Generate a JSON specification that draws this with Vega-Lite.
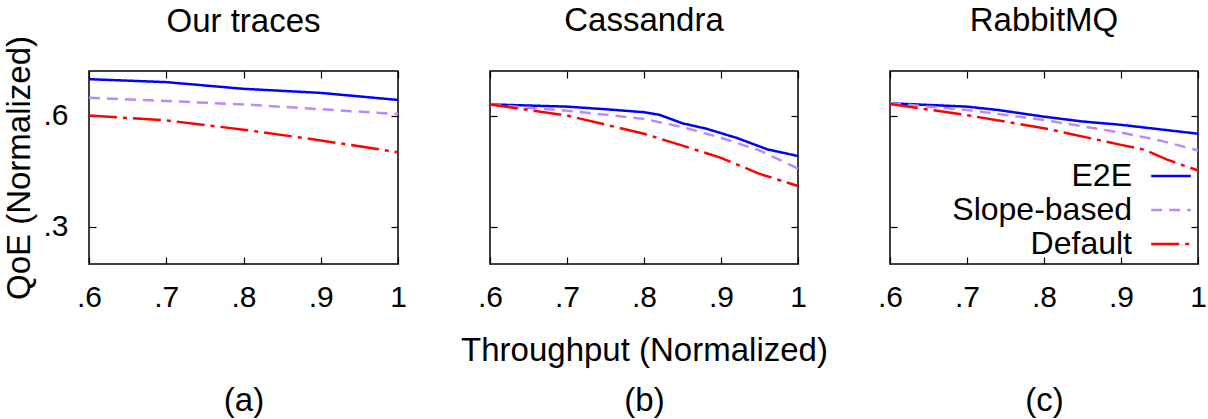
{
  "$schema": "https://vega.github.io/schema/vega-lite/v6.json",
  "background": "white",
  "padding": {"left": 3, "top": 4, "right": 5, "bottom": 0},
  "bounds": "flush",
  "spacing": 92,
  "data": {"values": [
    {"p": "a", "m": "E2E", "x": 0.6, "y": 0.698},
    {"p": "a", "m": "E2E", "x": 0.7, "y": 0.690},
    {"p": "a", "m": "E2E", "x": 0.8, "y": 0.672},
    {"p": "a", "m": "E2E", "x": 0.9, "y": 0.661},
    {"p": "a", "m": "E2E", "x": 1.0, "y": 0.642},
    {"p": "a", "m": "Slope-based", "x": 0.6, "y": 0.648},
    {"p": "a", "m": "Slope-based", "x": 0.7, "y": 0.639},
    {"p": "a", "m": "Slope-based", "x": 0.8, "y": 0.630},
    {"p": "a", "m": "Slope-based", "x": 0.9, "y": 0.617},
    {"p": "a", "m": "Slope-based", "x": 1.0, "y": 0.604},
    {"p": "a", "m": "Default", "x": 0.6, "y": 0.600},
    {"p": "a", "m": "Default", "x": 0.7, "y": 0.587},
    {"p": "a", "m": "Default", "x": 0.8, "y": 0.562},
    {"p": "a", "m": "Default", "x": 0.9, "y": 0.533},
    {"p": "a", "m": "Default", "x": 1.0, "y": 0.501},
    {"p": "b", "m": "E2E", "x": 0.6, "y": 0.630},
    {"p": "b", "m": "E2E", "x": 0.7, "y": 0.624},
    {"p": "b", "m": "E2E", "x": 0.75, "y": 0.617},
    {"p": "b", "m": "E2E", "x": 0.8, "y": 0.609},
    {"p": "b", "m": "E2E", "x": 0.82, "y": 0.602},
    {"p": "b", "m": "E2E", "x": 0.85, "y": 0.579},
    {"p": "b", "m": "E2E", "x": 0.88, "y": 0.565},
    {"p": "b", "m": "E2E", "x": 0.92, "y": 0.540},
    {"p": "b", "m": "E2E", "x": 0.96, "y": 0.509},
    {"p": "b", "m": "E2E", "x": 1.0, "y": 0.491},
    {"p": "b", "m": "Slope-based", "x": 0.6, "y": 0.630},
    {"p": "b", "m": "Slope-based", "x": 0.65, "y": 0.621},
    {"p": "b", "m": "Slope-based", "x": 0.7, "y": 0.613},
    {"p": "b", "m": "Slope-based", "x": 0.8, "y": 0.591},
    {"p": "b", "m": "Slope-based", "x": 0.85, "y": 0.569},
    {"p": "b", "m": "Slope-based", "x": 0.9, "y": 0.540},
    {"p": "b", "m": "Slope-based", "x": 0.95, "y": 0.506},
    {"p": "b", "m": "Slope-based", "x": 1.0, "y": 0.457},
    {"p": "b", "m": "Default", "x": 0.6, "y": 0.630},
    {"p": "b", "m": "Default", "x": 0.7, "y": 0.600},
    {"p": "b", "m": "Default", "x": 0.8, "y": 0.551},
    {"p": "b", "m": "Default", "x": 0.85, "y": 0.519},
    {"p": "b", "m": "Default", "x": 0.9, "y": 0.486},
    {"p": "b", "m": "Default", "x": 0.95, "y": 0.443},
    {"p": "b", "m": "Default", "x": 1.0, "y": 0.410},
    {"p": "c", "m": "E2E", "x": 0.6, "y": 0.633},
    {"p": "c", "m": "E2E", "x": 0.7, "y": 0.624},
    {"p": "c", "m": "E2E", "x": 0.74, "y": 0.615},
    {"p": "c", "m": "E2E", "x": 0.8, "y": 0.597},
    {"p": "c", "m": "E2E", "x": 0.85, "y": 0.584},
    {"p": "c", "m": "E2E", "x": 0.9, "y": 0.575},
    {"p": "c", "m": "E2E", "x": 1.0, "y": 0.551},
    {"p": "c", "m": "Slope-based", "x": 0.6, "y": 0.633},
    {"p": "c", "m": "Slope-based", "x": 0.7, "y": 0.615},
    {"p": "c", "m": "Slope-based", "x": 0.8, "y": 0.588},
    {"p": "c", "m": "Slope-based", "x": 0.9, "y": 0.554},
    {"p": "c", "m": "Slope-based", "x": 0.95, "y": 0.533},
    {"p": "c", "m": "Slope-based", "x": 1.0, "y": 0.506},
    {"p": "c", "m": "Default", "x": 0.6, "y": 0.631},
    {"p": "c", "m": "Default", "x": 0.7, "y": 0.601},
    {"p": "c", "m": "Default", "x": 0.8, "y": 0.566},
    {"p": "c", "m": "Default", "x": 0.9, "y": 0.521},
    {"p": "c", "m": "Default", "x": 0.93, "y": 0.508},
    {"p": "c", "m": "Default", "x": 0.96, "y": 0.481},
    {"p": "c", "m": "Default", "x": 1.0, "y": 0.452}
  ]},
  "config": {
    "font": "Liberation Sans",
    "view": {"stroke": "#000", "strokeWidth": 1.5},
    "axis": {
      "domain": false, "grid": false,
      "tickColor": "#000", "tickSize": -7, "tickWidth": 1.2,
      "labelFont": "Liberation Sans", "labelFontSize": 30, "labelColor": "#000",
      "titleFont": "Liberation Sans", "titleFontSize": 33, "titleFontWeight": "normal", "titleColor": "#000"
    },
    "title": {"font": "Liberation Sans", "fontSize": 33, "fontWeight": "normal", "color": "#000", "baseline": "alphabetic", "offset": 32, "frame": "group"}
  },
  "resolve": {
    "scale": {"color": "independent", "strokeDash": "independent"},
    "legend": {"color": "independent", "strokeDash": "independent"}
  },
  "hconcat": [
    {
      "width": 309, "height": 193,
      "title": {"text": "Our traces", "offset": -4},
      "transform": [{"filter": "datum.p == 'a'"}],
      "layer": [
        {
          "mark": {"type": "line", "strokeWidth": 2.5},
          "encoding": {
            "x": {"field": "x", "type": "quantitative", "scale": {"domain": [0.6, 1], "nice": false},
              "axis": {"orient": "bottom", "values": [0.6, 0.7, 0.8, 0.9, 1], "labelExpr": "datum.value == 1 ? '1' : replace(format(datum.value, '.1f'), '0.', '.')", "labelPadding": 25, "title": [" ", "(a)"], "titleLineHeight": 50, "titlePadding": 22, "labelFlush": false}},
            "y": {"field": "y", "type": "quantitative", "scale": {"domain": [0.2, 0.72], "nice": false, "zero": false},
              "axis": {"orient": "left", "values": [0.3, 0.6], "labelExpr": "replace(format(datum.value, '.1f'), '0.', '.')", "labelPadding": 28, "title": "QoE (Normalized)", "titlePadding": 6}},
            "color": {"field": "m", "type": "nominal", "scale": {"domain": ["E2E", "Slope-based", "Default"], "range": ["#0000ff", "#bb88ff", "#ff0000"]}, "legend": null},
            "strokeDash": {"field": "m", "type": "nominal", "scale": {"domain": ["E2E", "Slope-based", "Default"], "range": [[1, 0], [11, 7], [28, 6, 4, 6]]}, "legend": null}
          }
        },
        {
          "mark": {"type": "line", "opacity": 0},
          "encoding": {
            "x": {"field": "x", "type": "quantitative", "axis": {"orient": "top", "values": [0.6, 0.7, 0.8, 0.9, 1], "labels": false, "title": null}},
            "y": {"field": "y", "type": "quantitative", "axis": {"orient": "right", "values": [0.3, 0.6], "labels": false, "title": null}},
            "detail": {"field": "m"}
          }
        }
      ],
      "resolve": {"axis": {"x": "independent", "y": "independent"}}
    },
    {
      "width": 308, "height": 193,
      "title": "Cassandra",
      "transform": [{"filter": "datum.p == 'b'"}],
      "layer": [
        {
          "mark": {"type": "line", "strokeWidth": 2.5},
          "encoding": {
            "x": {"field": "x", "type": "quantitative", "scale": {"domain": [0.6, 1], "nice": false},
              "axis": {"orient": "bottom", "values": [0.6, 0.7, 0.8, 0.9, 1], "labelExpr": "datum.value == 1 ? '1' : replace(format(datum.value, '.1f'), '0.', '.')", "labelPadding": 25, "title": ["Throughput (Normalized)", "(b)"], "titleLineHeight": 50, "titlePadding": 22, "labelFlush": false}},
            "y": {"field": "y", "type": "quantitative", "scale": {"domain": [0.2, 0.72], "nice": false, "zero": false},
              "axis": {"orient": "left", "values": [0.3, 0.6], "labels": false, "title": null}},
            "color": {"field": "m", "type": "nominal", "scale": {"domain": ["E2E", "Slope-based", "Default"], "range": ["#0000ff", "#bb88ff", "#ff0000"]}, "legend": null},
            "strokeDash": {"field": "m", "type": "nominal", "scale": {"domain": ["E2E", "Slope-based", "Default"], "range": [[1, 0], [11, 7], [28, 6, 4, 6]]}, "legend": null}
          }
        },
        {
          "mark": {"type": "line", "opacity": 0},
          "encoding": {
            "x": {"field": "x", "type": "quantitative", "axis": {"orient": "top", "values": [0.6, 0.7, 0.8, 0.9, 1], "labels": false, "title": null}},
            "y": {"field": "y", "type": "quantitative", "axis": {"orient": "right", "values": [0.3, 0.6], "labels": false, "title": null}},
            "detail": {"field": "m"}
          }
        }
      ],
      "resolve": {"axis": {"x": "independent", "y": "independent"}}
    },
    {
      "width": 308, "height": 193,
      "title": "RabbitMQ",
      "transform": [{"filter": "datum.p == 'c'"}],
      "layer": [
        {
          "mark": {"type": "line", "strokeWidth": 2.5},
          "encoding": {
            "x": {"field": "x", "type": "quantitative", "scale": {"domain": [0.6, 1], "nice": false},
              "axis": {"orient": "bottom", "values": [0.6, 0.7, 0.8, 0.9, 1], "labelExpr": "datum.value == 1 ? '1' : replace(format(datum.value, '.1f'), '0.', '.')", "labelPadding": 25, "title": [" ", "(c)"], "titleLineHeight": 50, "titlePadding": 22, "labelFlush": false}},
            "y": {"field": "y", "type": "quantitative", "scale": {"domain": [0.2, 0.72], "nice": false, "zero": false},
              "axis": {"orient": "left", "values": [0.3, 0.6], "labels": false, "title": null}},
            "color": {"field": "m", "type": "nominal", "scale": {"domain": ["E2E", "Slope-based", "Default"], "range": ["#0000ff", "#bb88ff", "#ff0000"]},
              "legend": {"orient": "none", "legendX": 263, "legendY": 87, "title": null, "padding": 0, "labelFont": "Liberation Sans", "labelFontSize": 32, "labelColor": "#000", "labelAlign": "right", "labelOffset": -57, "labelLimit": 400, "symbolType": "M-1.2,0H1.2", "symbolSize": 1089, "symbolStrokeWidth": 2.5, "rowPadding": 0}},
            "strokeDash": {"field": "m", "type": "nominal", "scale": {"domain": ["E2E", "Slope-based", "Default"], "range": [[1, 0], [11, 7], [28, 6, 4, 6]]}}
          }
        },
        {
          "mark": {"type": "line", "opacity": 0},
          "encoding": {
            "x": {"field": "x", "type": "quantitative", "axis": {"orient": "top", "values": [0.6, 0.7, 0.8, 0.9, 1], "labels": false, "title": null}},
            "y": {"field": "y", "type": "quantitative", "axis": {"orient": "right", "values": [0.3, 0.6], "labels": false, "title": null}},
            "detail": {"field": "m"}
          }
        }
      ],
      "resolve": {"axis": {"x": "independent", "y": "independent"}}
    }
  ]
}
